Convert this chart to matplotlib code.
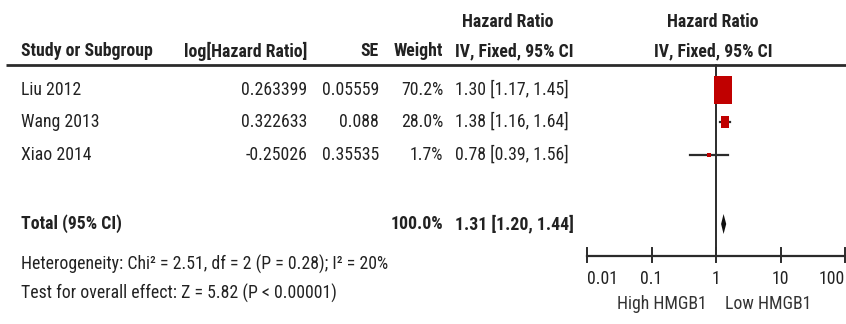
import numpy as np
import matplotlib
matplotlib.use('Agg')
import matplotlib.pyplot as plt
from matplotlib.patches import Rectangle, Polygon
from matplotlib import font_manager as fm

# data
studies = ['Liu 2012', 'Wang 2013', 'Xiao 2014']
log_hr = ['0.263399', '0.322633', '-0.25026']
se = ['0.05559', '0.088', '0.35535']
weight = [70.2, 28.0, 1.7]
hr = [1.30, 1.38, 0.78]
ci_lo = [1.17, 1.16, 0.39]
ci_hi = [1.45, 1.64, 1.56]
total_weight = 100.0
total_hr = 1.31
total_lo = 1.20
total_hi = 1.44
het_text = 'Heterogeneity: Chi\u00b2 = 2.51, df = 2 (P = 0.28); I\u00b2 = 20%'
test_text = 'Test for overall effect: Z = 5.82 (P < 0.00001)'
ticks = [0.01, 0.1, 1, 10, 100]
tick_labels = ['0.01', '0.1', '1', '10', '100']
favours = ['High HMGB1', 'Low HMGB1']

# look for a narrow sans face, else plain Liberation Sans
family, stretch = 'Liberation Sans', 'normal'
for fam, st in [('Liberation Sans Narrow', 'normal'), ('Roboto Condensed', 'normal'),
                ('Noto Sans', 'condensed'), ('DejaVu Sans Condensed', 'normal'),
                ('DejaVu Sans', 'condensed')]:
    try:
        path = fm.findfont(fm.FontProperties(family=fam, stretch=st), fallback_to_default=False)
    except Exception:
        continue
    low = path.lower()
    if 'narrow' in low or 'condensed' in low:
        family, stretch = fam, st
        break
plt.rcParams['font.family'] = [family, 'Liberation Sans', 'DejaVu Sans']
plt.rcParams['font.stretch'] = stretch

txt = '#222222'
line_c = '#2b2b2b'
red = '#c00000'

fig = plt.figure(figsize=(8.46, 3.24), dpi=100)
ax = fig.add_axes([0, 0, 1, 1])
ax.set_xlim(0, 846)
ax.set_ylim(324, 0)
ax.axis('off')

# size the text so the heterogeneity line spans about 366 px like the original
probe = ax.text(0, 0, het_text, fontsize=11)
w = probe.get_window_extent(renderer=fig.canvas.get_renderer()).width
probe.remove()
fs = min(11 * 366.0 / w, 14)

# forest panel on a log axis, sharing the pixel rows
fax = fig.add_axes([587/846, 0, (845-587)/846, 1])
fax.set_xscale('log')
fax.set_xlim(0.01, 100)
fax.set_ylim(324, 0)
fax.axis('off')
dec_px = (845-587)/4.0

# headers
ax.text(508, 22, 'Hazard Ratio', fontsize=fs, weight='bold', color=txt, ha='center', va='center')
ax.text(713, 22, 'Hazard Ratio', fontsize=fs, weight='bold', color=txt, ha='center', va='center')
hy = 51
ax.text(21, hy, 'Study or Subgroup', fontsize=fs, weight='bold', color=txt, ha='left', va='center')
ax.text(307, hy, 'log[Hazard Ratio]', fontsize=fs, weight='bold', color=txt, ha='right', va='center')
ax.text(379, hy, 'SE', fontsize=fs, weight='bold', color=txt, ha='right', va='center')
ax.text(443, hy, 'Weight', fontsize=fs, weight='bold', color=txt, ha='right', va='center')
ax.text(455, hy, 'IV, Fixed, 95% CI', fontsize=fs, weight='bold', color=txt, ha='left', va='center')
ax.text(713, hy, 'IV, Fixed, 95% CI', fontsize=fs, weight='bold', color=txt, ha='center', va='center')
ax.plot([6, 846], [65, 65], color=line_c, lw=2, solid_capstyle='butt')

# study rows
row_y = [90, 122, 155]
for i, y in enumerate(row_y):
    ax.text(21, y, studies[i], fontsize=fs, color=txt, ha='left', va='center')
    ax.text(307, y, log_hr[i], fontsize=fs, color=txt, ha='right', va='center')
    ax.text(379, y, se[i], fontsize=fs, color=txt, ha='right', va='center')
    ax.text(443, y, f'{weight[i]:.1f}%', fontsize=fs, color=txt, ha='right', va='center')
    ax.text(455, y, f'{hr[i]:.2f} [{ci_lo[i]:.2f}, {ci_hi[i]:.2f}]', fontsize=fs, color=txt, ha='left', va='center')
    fax.plot([ci_lo[i], ci_hi[i]], [y, y], color=line_c, lw=1.6, zorder=2)
    hw = max(9*weight[i]/70.2, 1.8) / dec_px
    hh = max(14*weight[i]/70.2, 1.8)
    x0 = hr[i]*10**(-hw)
    x1 = hr[i]*10**(hw)
    fax.add_patch(Rectangle((x0, y-hh), x1-x0, 2*hh, color=red, zorder=3, lw=0))

# total row
ty = 224
ax.text(21, ty, 'Total (95% CI)', fontsize=fs, weight='bold', color=txt, ha='left', va='center')
ax.text(443, ty, f'{total_weight:.1f}%', fontsize=fs, weight='bold', color=txt, ha='right', va='center')
ax.text(455, ty, f'{total_hr:.2f} [{total_lo:.2f}, {total_hi:.2f}]', fontsize=fs, weight='bold', color=txt, ha='left', va='center')
fax.add_patch(Polygon([[total_lo, ty], [total_hr, ty-10], [total_hi, ty], [total_hr, ty+10]],
                      closed=True, color='#111111', zorder=3, lw=0))
ax.text(21, 264, het_text, fontsize=fs, color=txt, ha='left', va='center')
ax.text(21, 293, test_text, fontsize=fs, color=txt, ha='left', va='center')

# null line and x axis
fax.plot([1, 1], [65, 256], color=line_c, lw=1.4, zorder=1)
fax.plot([0.01, 100], [256, 256], color=line_c, lw=1.6, clip_on=False)
aligns = ['left', 'center', 'center', 'center', 'right']
for t, lab, ha in zip(ticks, tick_labels, aligns):
    fax.plot([t, t], [248, 262], color=line_c, lw=1.4, clip_on=False)
    fax.text(t, 279, lab, fontsize=fs, color=txt, ha=ha, va='center', clip_on=False)
fax.text(0.72, 304, favours[0], fontsize=fs, color='#333333', ha='right', va='center')
fax.text(1.4, 304, favours[1], fontsize=fs, color='#333333', ha='left', va='center')

fig.savefig('out.png', dpi=100, facecolor='white')
